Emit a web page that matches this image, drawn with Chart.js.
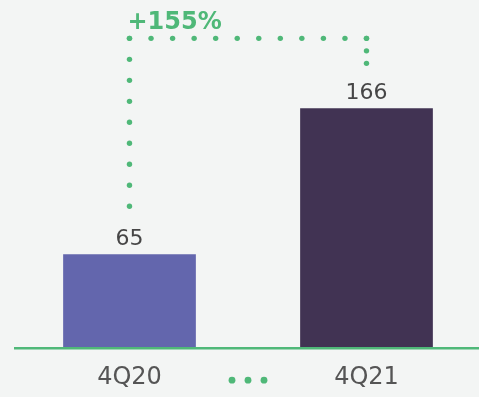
<!DOCTYPE html>
<html>
<head>
<meta charset="utf-8">
<script src="https://cdn.jsdelivr.net/npm/chart.js@4.4.1/dist/chart.umd.min.js"></script>
<style>
  html, body { margin: 0; padding: 0; background: #f3f5f4; overflow: hidden; }
  #wrap { width: 485px; height: 413px; }
</style>
</head>
<body>
<div id="wrap"><canvas id="chart"></canvas></div>
<script>
// Chart data
const quarters = ['4Q20', '4Q21'];
const values = [65, 166];
const barColors = ['#6366ad', '#413353'];
const growthLabel = ['+155%'];

const green = '#4fb878';

function dot(ctx, x, y, r) {
    ctx.beginPath();
    ctx.arc(x, y, r, 0, Math.PI * 2);
    ctx.fill();
}

// dotted run from a to b, about `gap` px apart, both ends included
function dotRun(ctx, ax, ay, bx, by, gap, r) {
    const len = Math.hypot(bx - ax, by - ay);
    const n = Math.max(1, Math.round(len / gap));
    for (let i = 0; i <= n; i++) {
        dot(ctx, ax + (bx - ax) * i / n, ay + (by - ay) * i / n, r);
    }
}

// Baseline, value labels, growth bracket, dots between quarters
const annotations = {
    id: 'annotations',
    afterDatasetsDraw(chart) {
        const ctx = chart.ctx;
        const area = chart.chartArea;
        const xs = chart.scales.x;
        const bars = chart.getDatasetMeta(0).data;
        ctx.save();

        // baseline
        ctx.strokeStyle = green;
        ctx.lineWidth = 2.5;
        ctx.beginPath();
        ctx.moveTo(14, area.bottom);
        ctx.lineTo(chart.width, area.bottom);
        ctx.stroke();

        // value labels
        ctx.fillStyle = '#464646';
        ctx.font = '22px "DejaVu Sans"';
        ctx.textAlign = 'center';
        ctx.textBaseline = 'alphabetic';
        bars.forEach((b, i) => {
            ctx.fillText(values[i], b.x, b.y - 9);
        });

        // bracket
        ctx.fillStyle = green;
        const x1 = bars[0].x, x2 = bars[1].x;
        const top = bars[1].y - 70;
        const leftBottom = bars[0].y - 48;
        const rightBottom = bars[1].y - 45;
        const r = 2.7;
        dotRun(ctx, x1, leftBottom, x1, top, 21.1, r);
        dotRun(ctx, x1, top, x2, top, 21.7, r);
        dotRun(ctx, x2, top, x2, rightBottom, 12.7, r);

        ctx.font = 'bold 24px "DejaVu Sans"';
        ctx.textAlign = 'left';
        ctx.fillText(growthLabel[0], x1 - 2, top - 9);

        // dots between the two quarters
        const mid = (xs.getPixelForValue(0) + xs.getPixelForValue(1)) / 2;
        const ly = area.bottom + 32;
        [-16, 0, 16].forEach(dx => dot(ctx, mid + dx, ly, 3.4));

        ctx.restore();
    }
};

new Chart(document.getElementById('chart'), {
    type: 'bar',
    data: {
        labels: quarters,
        datasets: [{
            data: values,
            backgroundColor: barColors,
            categoryPercentage: 1,
            barPercentage: 0.56
        }]
    },
    options: {
        responsive: true,
        maintainAspectRatio: false,
        animation: false,
        layout: { padding: { left: 11, right: 0, top: 0, bottom: 6 } },
        plugins: {
            legend: { display: false },
            tooltip: { enabled: false }
        },
        scales: {
            x: {
                grid: { display: false, drawTicks: false },
                border: { display: false },
                ticks: {
                    color: '#555555',
                    font: { family: 'DejaVu Sans', size: 24 },
                    padding: 15
                }
            },
            y: {
                display: false,
                min: 0,
                max: 241
            }
        }
    },
    plugins: [annotations]
});
</script>
</body>
</html>
